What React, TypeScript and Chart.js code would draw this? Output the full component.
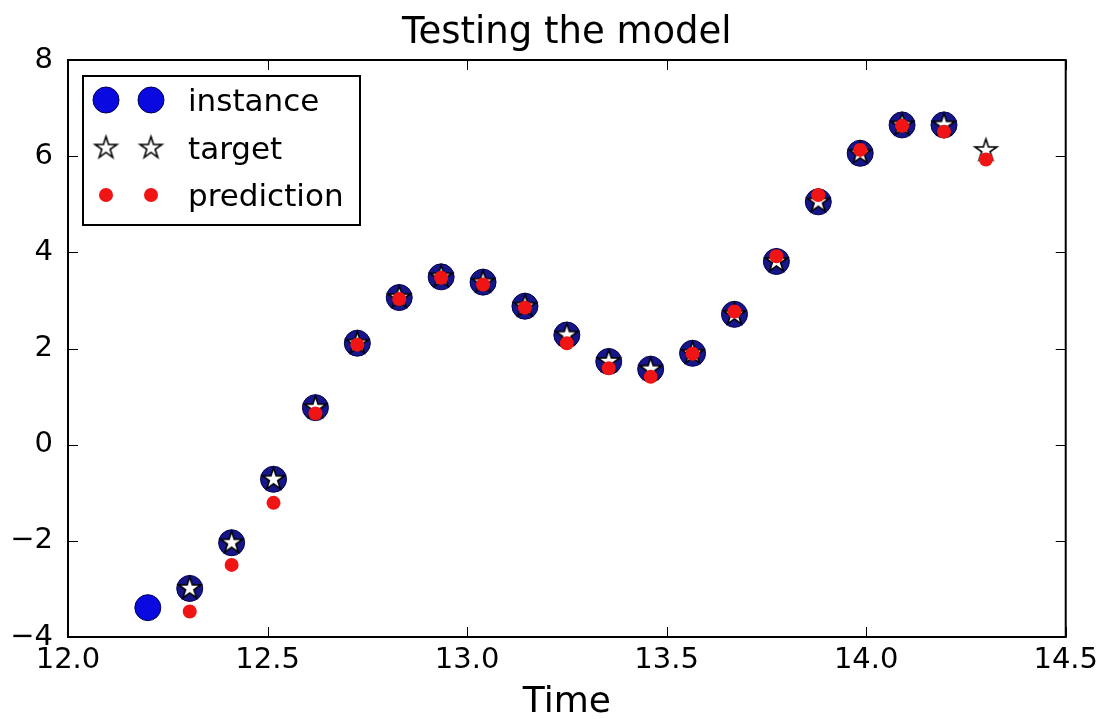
import React, { useEffect, useRef } from 'react';
import { Chart, registerables } from 'chart.js';

Chart.register(...registerables);

// ---- data ----
const instanceTime = [12.2, 12.305, 12.41, 12.515, 12.62, 12.725, 12.83, 12.935, 13.04, 13.145, 13.25, 13.355, 13.46, 13.565, 13.67, 13.775, 13.88, 13.985, 14.09, 14.195];
const instanceValues = [-3.39, -2.99, -2.04, -0.72, 0.77, 2.11, 3.06, 3.49, 3.38, 2.88, 2.28, 1.73, 1.57, 1.9, 2.71, 3.81, 5.05, 6.06, 6.65, 6.65];
const targetTime = [12.305, 12.41, 12.515, 12.62, 12.725, 12.83, 12.935, 13.04, 13.145, 13.25, 13.355, 13.46, 13.565, 13.67, 13.775, 13.88, 13.985, 14.09, 14.195, 14.3];
const targetValues = [-2.99, -2.04, -0.72, 0.77, 2.11, 3.06, 3.49, 3.38, 2.88, 2.28, 1.73, 1.57, 1.9, 2.71, 3.81, 5.05, 6.06, 6.65, 6.65, 6.12];
const predictionValues = [-3.47, -2.5, -1.21, 0.65, 2.08, 3.03, 3.47, 3.33, 2.85, 2.11, 1.59, 1.41, 1.89, 2.77, 3.92, 5.19, 6.13, 6.63, 6.51, 5.93];
const xTicks = [12.0, 12.5, 13.0, 13.5, 14.0, 14.5];
const yTicks = [-4, -2, 0, 2, 4, 6, 8];
const seriesLabels = ['instance', 'target', 'prediction'];
const chartTitle = 'Testing the model';
const xTitle = 'Time';

const FONT = "'DejaVu Sans', sans-serif";
const BLUE = '#0a0ae0';
const NAVY = '#161688';
const RED = '#f01414';

function makeStar(R: number, stroke: number): HTMLCanvasElement {
  const size = Math.ceil(2 * R + 10);
  const c = document.createElement('canvas');
  c.width = size;
  c.height = size;
  const g = c.getContext('2d')!;
  const cx = size / 2;
  const cy = size / 2;
  const r = R * 0.382;
  g.beginPath();
  for (let k = 0; k < 10; k++) {
    const rad = k % 2 === 0 ? R : r;
    const a = -Math.PI / 2 + (k * Math.PI) / 5;
    const px = cx + rad * Math.cos(a);
    const py = cy + rad * Math.sin(a);
    if (k === 0) g.moveTo(px, py);
    else g.lineTo(px, py);
  }
  g.closePath();
  g.fillStyle = '#ffffff';
  g.fill();
  g.lineWidth = stroke;
  g.strokeStyle = '#000000';
  g.lineJoin = 'miter';
  g.stroke();
  return c;
}

export default function App() {
  const ref = useRef<HTMLCanvasElement | null>(null);

  useEffect(() => {
    if (!ref.current) return;
    const star = makeStar(11.5, 1.6);

    const framePlugin = {
      id: 'frameTicks',
      afterDatasetsDraw(chart: any) {
        const { ctx, chartArea } = chart;
        const { left, right, top, bottom } = chartArea;
        const xs = chart.scales.x;
        const ys = chart.scales.y;
        ctx.save();
        ctx.strokeStyle = '#000';
        ctx.lineWidth = 1;
        ctx.beginPath();
        xs.ticks.forEach((t: any) => {
          const px = Math.round(xs.getPixelForValue(t.value)) + 0.5;
          ctx.moveTo(px, bottom);
          ctx.lineTo(px, bottom - 10);
          ctx.moveTo(px, top);
          ctx.lineTo(px, top + 10);
        });
        ys.ticks.forEach((t: any) => {
          const py = Math.round(ys.getPixelForValue(t.value)) + 0.5;
          ctx.moveTo(left, py);
          ctx.lineTo(left + 10, py);
          ctx.moveTo(right, py);
          ctx.lineTo(right - 10, py);
        });
        ctx.stroke();
        ctx.lineWidth = 2;
        ctx.strokeRect(left, top, right - left, bottom - top);
        ctx.restore();
      },
    };

    const legendPlugin = {
      id: 'mplLegend',
      afterDraw(chart: any) {
        const { ctx, chartArea } = chart;
        const bx = chartArea.left + 15;
        const by = chartArea.top + 16;
        const bw = 277;
        const bh = 149;
        ctx.save();
        ctx.fillStyle = '#fff';
        ctx.fillRect(bx, by, bw, bh);
        ctx.lineWidth = 2;
        ctx.strokeStyle = '#000';
        ctx.strokeRect(bx, by, bw, bh);
        const rows = [by + 24, by + 72, by + 119];
        const mx = [bx + 23, bx + 68];
        chart.data.datasets.forEach((ds: any, i: number) => {
          const cy = rows[i];
          mx.forEach((x) => {
            if (i === 0) {
              ctx.beginPath();
              ctx.arc(x, cy, 13, 0, Math.PI * 2);
              ctx.fillStyle = BLUE;
              ctx.fill();
              ctx.lineWidth = 1;
              ctx.strokeStyle = '#000050';
              ctx.stroke();
            } else if (i === 1) {
              ctx.drawImage(star, x - star.width / 2, cy - star.height / 2);
            } else {
              ctx.beginPath();
              ctx.arc(x, cy, 7, 0, Math.PI * 2);
              ctx.fillStyle = RED;
              ctx.fill();
            }
          });
          ctx.fillStyle = '#000';
          ctx.font = `31px ${FONT}`;
          ctx.textBaseline = 'alphabetic';
          ctx.textAlign = 'left';
          ctx.fillText(ds.label, bx + 105, cy + 11);
        });
        ctx.restore();
      },
    };

    const chart = new Chart(ref.current, {
      type: 'scatter',
      data: {
        datasets: [
          {
            label: seriesLabels[0],
            data: instanceTime.map((x, i) => ({ x, y: instanceValues[i] })),
            pointRadius: 13,
            pointHoverRadius: 13,
            pointStyle: 'circle',
            pointBackgroundColor: (c: any) => (c.dataIndex === 0 ? BLUE : NAVY),
            pointBorderColor: '#000050',
            pointBorderWidth: 1,
            order: 3,
          },
          {
            label: seriesLabels[1],
            data: targetTime.map((x, i) => ({ x, y: targetValues[i] })),
            pointStyle: star,
            pointRadius: 11,
            pointHoverRadius: 11,
            order: 2,
          },
          {
            label: seriesLabels[2],
            data: targetTime.map((x, i) => ({ x, y: predictionValues[i] })),
            pointRadius: 7,
            pointHoverRadius: 7,
            pointStyle: 'circle',
            pointBackgroundColor: RED,
            pointBorderWidth: 0,
            pointBorderColor: RED,
            order: 1,
          },
        ],
      } as any,
      options: {
        animation: false,
        responsive: false,
        maintainAspectRatio: false,
        events: [],
        layout: { padding: { left: 0, right: 36, top: 0, bottom: 0 } },
        plugins: {
          legend: { display: false },
          tooltip: { enabled: false },
          title: {
            display: true,
            fullSize: false,
            text: chartTitle,
            color: '#000',
            font: { family: FONT, size: 37, weight: 'normal' as any, lineHeight: 1.2 },
            padding: { top: 11, bottom: 4.6 },
          },
        },
        scales: {
          x: {
            type: 'linear',
            min: 12,
            max: 14.5,
            grid: { display: false, drawTicks: false },
            border: { display: false },
            afterBuildTicks: (s: any) => {
              s.ticks = xTicks.map((v) => ({ value: v }));
            },
            afterFit: (s: any) => {
              s.height = 82;
            },
            ticks: {
              autoSkip: false,
              maxRotation: 0,
              color: '#000',
              padding: 6,
              font: { family: FONT, size: 29 },
              callback: (v: any) => Number(v).toFixed(1),
            },
            title: {
              display: true,
              text: xTitle,
              color: '#000',
              font: { family: FONT, size: 36, lineHeight: 0.9 },
              padding: { top: 0, bottom: 0 },
            },
          },
          y: {
            type: 'linear',
            min: -4,
            max: 8,
            grid: { display: false, drawTicks: false },
            border: { display: false },
            afterBuildTicks: (s: any) => {
              s.ticks = yTicks.map((v) => ({ value: v }));
            },
            afterFit: (s: any) => {
              s.width = 68;
            },
            ticks: {
              autoSkip: false,
              color: '#000',
              padding: 15,
              font: { family: FONT, size: 29 },
              callback: (v: any) => (Number(v) < 0 ? '\u2212' + Math.abs(Number(v)) : String(v)),
            },
          },
        },
      } as any,
      plugins: [framePlugin, legendPlugin],
    });

    return () => chart.destroy();
  }, []);

  return (
    <div style={{ position: 'fixed', left: 0, top: 0, width: 1104, height: 719, background: '#fff' }}>
      <canvas ref={ref} width={1104} height={719} style={{ display: 'block' }} />
    </div>
  );
}
